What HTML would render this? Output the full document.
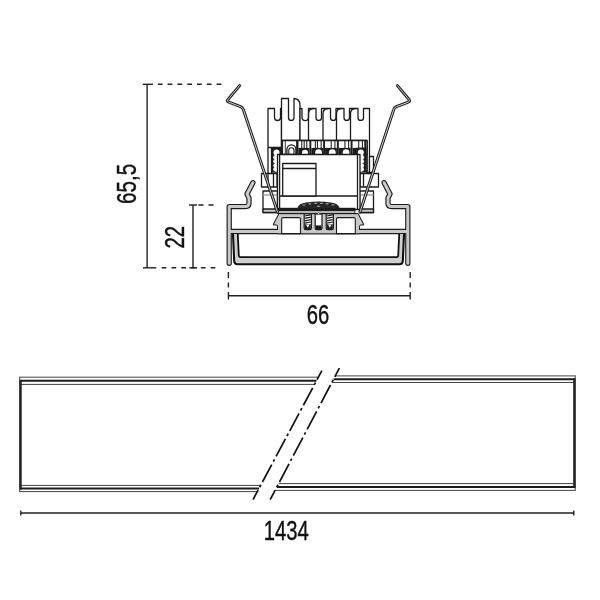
<!DOCTYPE html>
<html><head><meta charset="utf-8"><title>Drawing</title>
<style>html,body{margin:0;padding:0;background:#fff}svg{display:block;will-change:transform}text{font-family:"Liberation Sans",sans-serif;fill:#111;stroke:#111;stroke-width:0.4px}</style>
</head><body>
<svg width="600" height="600" viewBox="0 0 600 600">
<rect width="600" height="600" fill="#fff"/>
<g stroke="#222" stroke-width="1.4" fill="none">
<path d="M147.1 84.3V267.8"/>
<path d="M142.8 84.3H153"/>
<path d="M157.8 84.3H221.6" stroke-dasharray="4.8 5.0"/>
<path d="M143 267.8H156.3"/>
<path d="M161.7 267.8H215.3" stroke-dasharray="4.7 5.1"/>
<path d="M193.0 205V267.8"/>
<path d="M189 205H197"/>
<path d="M198.5 205H203.5M208.5 205H213.5"/>
<path d="M189.3 267.8H197"/>
<path d="M228.4 295.8H410.2"/>
<path d="M228.4 272V278M228.4 282.5V287.5M228.4 292V299.5"/>
<path d="M410.2 272V278M410.2 282.5V287.5M410.2 292V299.5"/>
</g>
<text transform="translate(306.7 323.5) scale(0.73 1)" font-size="27.7">66</text>
<text transform="translate(263.8 539.9) scale(0.73 1)" font-size="27.7">1434</text>
<text transform="translate(135.7 204.0) rotate(-90) scale(0.745 1)" font-size="27.7">65,5</text>
<text transform="translate(183.9 248.5) rotate(-90) scale(0.73 1)" font-size="27.7">22</text>
<g fill="none">
<path d="M19.3 377.2H318.4" stroke="#444" stroke-width="1"/>
<path d="M19.3 380.8H316.5" stroke="#1c1c1c" stroke-width="2.0"/>
<path d="M19.3 384.4H314.5" stroke="#444" stroke-width="1"/>
<path d="M19.3 485.4H260.7" stroke="#444" stroke-width="1"/>
<path d="M19.3 488.5H259.0" stroke="#1c1c1c" stroke-width="2.0"/>
<path d="M19.3 491.6H257.4" stroke="#444" stroke-width="1"/>
<path d="M20.4 380V489.5" stroke="#1c1c1c" stroke-width="2.6"/><path d="M19.7 376.8V492" stroke="#444" stroke-width="1"/>
<path d="M335.3 375.9H575.3" stroke="#444" stroke-width="1"/>
<path d="M333.6 379.2H575.3" stroke="#1c1c1c" stroke-width="2.0"/>
<path d="M331.8 382.5H575.3" stroke="#444" stroke-width="1"/>
<path d="M278.6 483.6H575.3" stroke="#444" stroke-width="1"/>
<path d="M276.8 487H575.3" stroke="#1c1c1c" stroke-width="2.0"/>
<path d="M275.0 490.4H575.3" stroke="#444" stroke-width="1"/>
<path d="M574.5 378.4V488" stroke="#1c1c1c" stroke-width="2.6"/><path d="M575.2 375.5V490.8" stroke="#444" stroke-width="1"/>
<path d="M321.9 370.6L253.1 499.5" stroke="#111" stroke-width="1.7" stroke-dasharray="19.8 3.3 2.6 3.3" stroke-dashoffset="9.5"/>
<path d="M339.4 368.1L270.2 499.6" stroke="#111" stroke-width="1.7" stroke-dasharray="20.5 3.3 2.6 3.3" stroke-dashoffset="10.6"/>
<path d="M20.8 513H573.8M20.8 510.6V515.4M573.8 510.6V515.4" stroke="#222" stroke-width="1.4"/>
</g>
<g stroke="#1c1c1c" stroke-width="1.3" fill="#fff" stroke-linejoin="round">
<path d="M268 173.5V108.5H274.5V117.5A3 3 0 0 0 280.5 117.5V108.5H281.5V147.5H268"/>
<path d="M281.5 140.5V98.5H288.5V117.7A2.75 2.75 0 0 0 294 117.7V98.5Q300 99 300 105V140.5Z"/>
<path d="M300 140.5V108.5H302V117.3A3.25 3.25 0 0 0 308.5 117.3V108.5H316.0V117.7A2.75 2.75 0 0 0 321.5 117.7V108.5H330.5V117.7A2.75 2.75 0 0 0 336 117.7V108.5H344.0V117.7A2.75 2.75 0 0 0 349.5 117.7V108.5H358.0V117.7A2.75 2.75 0 0 0 363.5 117.7V108.5H369.5V172.5H367V140.5Z"/>
<path d="M308.5 140.5V114Q308.5 108.5 313.5 108.5" fill="none"/>
<path d="M323 140.5V114Q323 108.5 328 108.5" fill="none"/>
<path d="M336.5 140.5V114Q336.5 108.5 341.5 108.5" fill="none"/>
<path d="M350.5 140.5V114Q350.5 108.5 355.5 108.5" fill="none"/>
<path d="M367 141V172.5" fill="none"/>
<rect x="281.5" y="140.5" width="85.5" height="14"/>
</g>
<g stroke="#1c1c1c" fill="none">
<path d="M282.2 140.5V154.5" stroke-width="1.8"/>
<path d="M297.3 140.5V154.5" stroke-width="2.4"/>
<path d="M285.3 140.5V154.5" stroke-width="0.9"/>
<path d="M286.9 154.5V149.4A4.5 4.5 0 0 1 295.9 149.4V154.5" stroke-width="1.3"/>
<path d="M288.8 154.5V150.4A2.6 2.6 0 0 1 294 150.4V154.5" stroke-width="1.1"/>
<path d="M310.35 140.5V154.5" stroke-width="1.9"/>
<path d="M324.1 140.5V154.5" stroke-width="1.9"/>
<path d="M337.85 140.5V154.5" stroke-width="1.9"/>
<path d="M351.6 140.5V154.5" stroke-width="1.9"/>
<path d="M365.2 141V154.5" stroke-width="1.8"/>
<path d="M301.8 140.5V149.5" stroke-width="1.05"/>
<path d="M304.2 140.5V149.5" stroke-width="1.05"/>
<path d="M306.8 140.5V149.5" stroke-width="1.05"/>
<path d="M317.45 140.5V149.5" stroke-width="1.05"/>
<path d="M321.15 140.5V149.5" stroke-width="1.05"/>
<path d="M315.35 140.5V149.5" stroke-width="1.05"/>
<path d="M331.2 140.5V149.5" stroke-width="1.05"/>
<path d="M334.9 140.5V149.5" stroke-width="1.05"/>
<path d="M344.95 140.5V149.5" stroke-width="1.05"/>
<path d="M348.65 140.5V149.5" stroke-width="1.05"/>
<path d="M358.7 140.5V149.5" stroke-width="1.05"/>
<path d="M362.4 140.5V149.5" stroke-width="1.05"/>
</g>
<rect x="298.5" y="147.9" width="10.9" height="6.6" fill="#1c1c1c"/>
<path d="M302.0 154.6V152.7A3.0 3.0 0 0 1 308.0 152.7V154.6Z" fill="#fff"/>
<rect x="311.35" y="147.9" width="11.8" height="6.6" fill="#1c1c1c"/>
<path d="M315.15 154.6V152.7A3.4 3.4 0 0 1 321.95 152.7V154.6Z" fill="#fff"/>
<rect x="325.1" y="147.9" width="11.8" height="6.6" fill="#1c1c1c"/>
<path d="M328.9 154.6V152.7A3.4 3.4 0 0 1 335.7 152.7V154.6Z" fill="#fff"/>
<rect x="338.85" y="147.9" width="11.8" height="6.6" fill="#1c1c1c"/>
<path d="M342.65 154.6V152.7A3.4 3.4 0 0 1 349.45 152.7V154.6Z" fill="#fff"/>
<rect x="352.6" y="147.9" width="11.8" height="6.6" fill="#1c1c1c"/>
<path d="M356.4 154.6V152.7A3.4 3.4 0 0 1 363.2 152.7V154.6Z" fill="#fff"/>
<rect x="271" y="147.8" width="6.5" height="24.8" fill="#1c1c1c"/>
<rect x="271" y="147.8" width="10.3" height="6.7" fill="#1c1c1c"/>
<rect x="275.5" y="154" width="1.7" height="17.6" fill="#fff"/>
<circle cx="275.5" cy="157.2" r="2.25" fill="#fff"/>
<circle cx="275.5" cy="161.3" r="2.25" fill="#fff"/>
<circle cx="275.5" cy="165.4" r="2.25" fill="#fff"/>
<circle cx="275.5" cy="169.3" r="2.25" fill="#fff"/>
<circle cx="276.5" cy="152.6" r="3.0" fill="#fff"/>
<rect x="359.8" y="147.8" width="6.5" height="24.8" fill="#1c1c1c"/>
<rect x="356.0" y="147.8" width="10.3" height="6.7" fill="#1c1c1c"/>
<rect x="360.1" y="154" width="1.7" height="17.6" fill="#fff"/>
<circle cx="361.8" cy="157.2" r="2.25" fill="#fff"/>
<circle cx="361.8" cy="161.3" r="2.25" fill="#fff"/>
<circle cx="361.8" cy="165.4" r="2.25" fill="#fff"/>
<circle cx="361.8" cy="169.3" r="2.25" fill="#fff"/>
<circle cx="360.8" cy="152.6" r="3.0" fill="#fff"/>
<g stroke="#1c1c1c" stroke-width="1.3" fill="#fff" stroke-linejoin="round">
<path d="M271.5 147.5V173.5" fill="none"/>
<rect x="261.5" y="173.5" width="15.5" height="13.5"/>
<path d="M268 173.5V187M273.5 173.5V187" fill="none"/>
<rect x="263" y="191" width="14.5" height="21.5"/>
<rect x="263" y="209" width="14.5" height="3.5" fill="#c9c9c9"/>
<path d="M263 195H277" stroke="#999" fill="none"/>
<rect x="369.5" y="156.5" width="4" height="16"/>
<rect x="360" y="173.5" width="18.5" height="13.5"/>
<path d="M363.5 173.5V187" fill="none"/>
<rect x="359.5" y="191" width="14" height="21.5"/>
<rect x="359.5" y="209" width="14" height="3.5" fill="#c9c9c9"/>
<path d="M360 195H373.5" stroke="#999" fill="none"/>
<rect x="277.5" y="154.5" width="82.5" height="55"/>
<path d="M279.6 154.5V209M357.5 154.5V209M279.6 196H357.5" fill="none"/>
<rect x="282.7" y="163.5" width="33.3" height="32.5"/>
<path d="M282.7 168.5H316" fill="none"/>
</g>
<rect x="278" y="208.2" width="77" height="5.3" fill="#b5b5b5" stroke="#1c1c1c" stroke-width="0.8"/>
<rect x="278" y="208" width="77" height="3" fill="#1c1c1c"/>
<path d="M297.3 208.3Q298.8 203.4 306 202.6Q318.5 200.3 331 202.6Q338.2 203.4 339.7 208.3Z" fill="#262626"/>
<ellipse cx="304" cy="204.9" rx="1.7" ry="0.7" fill="#9a9a9a"/>
<ellipse cx="309.8" cy="203.8" rx="1.7" ry="0.7" fill="#9a9a9a"/>
<ellipse cx="315.6" cy="203.2" rx="1.7" ry="0.7" fill="#9a9a9a"/>
<ellipse cx="321.4" cy="203.2" rx="1.7" ry="0.7" fill="#9a9a9a"/>
<ellipse cx="327.2" cy="203.8" rx="1.7" ry="0.7" fill="#9a9a9a"/>
<ellipse cx="333" cy="204.9" rx="1.7" ry="0.7" fill="#9a9a9a"/>
<ellipse cx="318.5" cy="206.2" rx="1.7" ry="0.7" fill="#9a9a9a"/>
<g fill="none" stroke="#1c1c1c" stroke-width="5.3" stroke-linecap="round" stroke-linejoin="round">
<path d="M252.9 182.7L247 194L249 198V203Q249 206.6 245.4 206.6H229.2V263.3"/><path d="M384.1 182.7L390.0 194L388.0 198V203Q388.0 206.6 391.6 206.6H407.8V263.3"/><path d="M229.2 231.5H408" stroke-linecap="butt"/>
<path d="M279.3 214L273.8 224.4H276.4Q278 224.8 278 227V233.2H359V227Q359 224.8 360.6 224.4H363.2L357.7 214Z" fill="#1c1c1c" stroke-width="2"/>
</g>
<g fill="none" stroke="#c9c9c9" stroke-width="3.0" stroke-linecap="round" stroke-linejoin="round">
<path d="M252.9 182.7L247 194L249 198V203Q249 206.6 245.4 206.6H229.2V263.3"/><path d="M384.1 182.7L390.0 194L388.0 198V203Q388.0 206.6 391.6 206.6H407.8V263.3"/><path d="M229.2 231.5H408" stroke-linecap="butt"/>
<path d="M279.3 214L273.8 224.4H276.4Q278 224.8 278 227V233.2H359V227Q359 224.8 360.6 224.4H363.2L357.7 214Z" fill="#c9c9c9" stroke="none"/>
</g>
<path d="M279.5 213.7H357.5" stroke="#1c1c1c" stroke-width="1" fill="none"/>
<g stroke="#1c1c1c" stroke-width="1.1" fill="#fff">
<path d="M281.7 233.6V219Q281.7 217.6 283.2 217.6H299Q300.5 217.6 300.5 219V233.6Z"/>
<path d="M336.5 233.6V219Q336.5 217.6 338 217.6H353.8Q355.3 217.6 355.3 219V233.6Z"/>
</g>
<path d="M304.2 213.8V228Q304.2 229.6 305.8 229.6H309.8Q311.4 229.6 311.4 228V213.8Z" fill="#fff" stroke="#1c1c1c" stroke-width="1.2"/>
<path d="M304.8 216.0L310.8 214.8" stroke="#1c1c1c" stroke-width="1.25"/>
<path d="M304.8 218.39999999999998L310.8 217.2" stroke="#1c1c1c" stroke-width="1.25"/>
<path d="M304.8 220.79999999999998L310.8 219.6" stroke="#1c1c1c" stroke-width="1.25"/>
<path d="M304.8 223.2L310.8 222.0" stroke="#1c1c1c" stroke-width="1.25"/>
<path d="M304.8 224.2H310.8V229H304.8Z" fill="#1c1c1c"/>
<path d="M306.0 224.6H309.59999999999997L307.8 227.8Z" fill="#fff"/>
<path d="M326.2 213.8V228Q326.2 229.6 327.8 229.6H331.8Q333.4 229.6 333.4 228V213.8Z" fill="#fff" stroke="#1c1c1c" stroke-width="1.2"/>
<path d="M326.8 216.0L332.8 214.8" stroke="#1c1c1c" stroke-width="1.25"/>
<path d="M326.8 218.39999999999998L332.8 217.2" stroke="#1c1c1c" stroke-width="1.25"/>
<path d="M326.8 220.79999999999998L332.8 219.6" stroke="#1c1c1c" stroke-width="1.25"/>
<path d="M326.8 223.2L332.8 222.0" stroke="#1c1c1c" stroke-width="1.25"/>
<path d="M326.8 224.2H332.8V229H326.8Z" fill="#1c1c1c"/>
<path d="M328.0 224.6H331.59999999999997L329.8 227.8Z" fill="#fff"/>
<path d="M315.2 214V228Q315.2 229.6 316.8 229.6H320.4Q322 229.6 322 228V214Z" fill="#fff" stroke="#1c1c1c" stroke-width="1.2"/>
<rect x="315.6" y="225.4" width="6" height="4" fill="#1c1c1c"/>
<path d="M317 214.6L318.6 212.6L320.2 214.6Z" fill="#fff" stroke="#1c1c1c" stroke-width="0.5"/>
<path d="M233 234.6L234.2 261Q234.4 264.3 237.6 264.3H399.4Q402.6 264.3 402.8 261L404.0 234.6L399.2 234.6L398.2 255.6Q398.1 257.2 396.4 257.2H240.6Q238.9 257.2 238.8 255.6L237.8 234.6Z" fill="#cfcfcf" stroke="none"/>
<path d="M233 234.6L234.2 261Q234.4 264.3 237.6 264.3H399.4Q402.6 264.3 402.8 261L404.0 234.6" fill="none" stroke="#111" stroke-width="2.1" stroke-linecap="round"/>
<path d="M237.8 234.6L238.8 255.6Q238.9 257.2 240.6 257.2H396.4Q398.1 257.2 398.2 255.6L399.2 234.6" fill="none" stroke="#111" stroke-width="1.8" stroke-linecap="round"/>
<g fill="none" stroke-linecap="round" stroke-linejoin="round">
<path d="M239.6 85.6L228.2 99.3Q226.2 101.2 228.8 102.2L240.6 106.7Q242.7 107.6 243.3 109.6L277.5 212" stroke="#1c1c1c" stroke-width="3.0"/><path d="M397.4 85.6L408.8 99.3Q410.8 101.2 408.2 102.2L396.4 106.7Q394.3 107.6 393.7 109.6L360.0 212" stroke="#1c1c1c" stroke-width="3.0"/>
<path d="M239.6 85.6L228.2 99.3Q226.2 101.2 228.8 102.2L240.6 106.7Q242.7 107.6 243.3 109.6L277.5 212" stroke="#fff" stroke-width="0.8"/><path d="M397.4 85.6L408.8 99.3Q410.8 101.2 408.2 102.2L396.4 106.7Q394.3 107.6 393.7 109.6L360.0 212" stroke="#fff" stroke-width="0.8"/>
</g>
</svg>
</body></html>
